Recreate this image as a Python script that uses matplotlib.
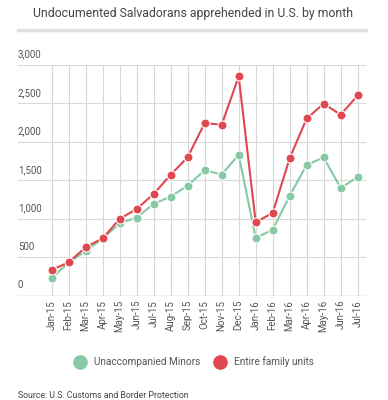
import matplotlib
matplotlib.use("Agg")
import matplotlib.pyplot as plt
from matplotlib.lines import Line2D
import matplotlib.transforms as mtransforms

plt.rcParams['font.family'] = ['Roboto', 'DejaVu Sans']

months = ["Jan-15", "Feb-15", "Mar-15", "Apr-15", "May-15", "Jun-15", "Jul-15",
          "Aug-15", "Sep-15", "Oct-15", "Nov-15", "Dec-15", "Jan-16", "Feb-16",
          "Mar-16", "Apr-16", "May-16", "Jun-16", "Jul-16"]
minors = [230, 432, 580, 742, 942, 1014, 1192, 1287, 1430, 1630, 1574, 1830,
          750, 858, 1297, 1700, 1795, 1397, 1544]
families = [334, 434, 629, 746, 997, 1127, 1322, 1570, 1800, 2242, 2220, 2848,
            954, 1075, 1787, 2302, 2493, 2350, 2601]
yticks = [0, 500, 1000, 1500, 2000, 2500, 3000]
ytick_labels = ["0", "500", "1,000", "1,500", "2,000", "2,500", "3,000"]

green = "#86c9a4"
red = "#e0474f"

W, H = 388, 400
fig = plt.figure(figsize=(W / 100, H / 100), dpi=100)

left, right = 18, 366
top, bottom = 64.7, 295.7
ax = fig.add_axes([left / W, 1 - bottom / H, (right - left) / W, (bottom - top) / H])

x = list(range(len(months)))
x0 = 51.7
step = 17.0
ax.set_xlim(-(x0 - left) / step, (right - x0) / step)
ax.set_ylim(0, 3000)

for sp in ax.spines.values():
    sp.set_visible(False)

for xi in x:
    ax.axvline(xi, color="#d6d6d6", lw=0.8, zorder=0)
for yv in yticks[1:]:
    ax.axhline(yv, color="#d9d9d9", lw=0.8, zorder=0)
ax.axhline(0, color="#bdbdbd", lw=1.0, zorder=0)

ax.plot(x, minors, color=green, lw=1.5, marker="o", ms=6.5,
        markerfacecolor=green, markeredgecolor="white", markeredgewidth=0.8, zorder=3)
ax.plot(x, families, color=red, lw=1.5, marker="o", ms=6.5,
        markerfacecolor=red, markeredgecolor="white", markeredgewidth=0.8, zorder=4)

ax.set_yticks([])
ax.set_xticks(x)
ax.set_xticklabels(months, rotation=90, fontsize=7, color="#555555")
ax.tick_params(axis="x", length=0, pad=3)

trans = mtransforms.blended_transform_factory(ax.transAxes, ax.transData)
for yv, lab in zip(yticks, ytick_labels):
    ax.text(0.0, yv + 70, lab, transform=trans, fontsize=7, color="#555555",
            ha="left", va="bottom")

fig.text(193 / W, 1 - 14 / H, "Undocumented Salvadorans apprehended in U.S. by month",
         ha="center", va="center", fontsize=8.8, color="#444444")
fig.add_artist(Line2D([18 / W, 366 / W], [1 - 29.5 / H, 1 - 29.5 / H],
                      color="#e0e0e0", lw=2.5))

handles = [Line2D([], [], ls="", marker="o", ms=9.5, color=green),
           Line2D([], [], ls="", marker="o", ms=9.5, color=red)]
fig.legend(handles, ["Unaccompanied Minors", "Entire family units"],
           loc="center", bbox_to_anchor=(192 / W, 1 - 362 / H), ncol=2, frameon=False,
           fontsize=7.2, handletextpad=0.4, columnspacing=1.0, labelcolor="#555555")

fig.text(18 / W, 1 - 396 / H, "Source: U.S. Customs and Border Protection",
         ha="left", va="center", fontsize=6.3, color="#444444")

fig.savefig("out.png", dpi=100, facecolor="white")
